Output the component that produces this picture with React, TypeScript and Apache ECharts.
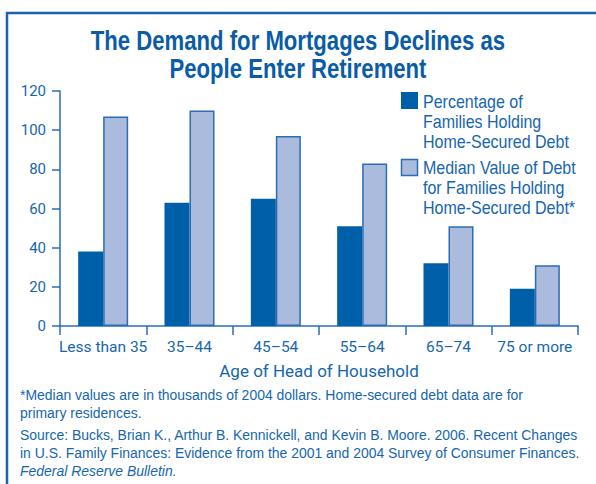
import React, { useEffect, useRef } from "react";
import * as echarts from "echarts";

const categories = ["Less than 35", "35\u201344", "45\u201354", "55\u201364", "65\u201374", "75 or more"];
const pctHolding = [38, 63, 65, 51, 32, 19];
const medianDebt = [107, 110, 97, 83, 51, 31];
const yTicks = { min: 0, max: 120, interval: 20 };

const AXFONT = "Roboto, 'Liberation Sans', sans-serif";
const FONT = "'Liberation Sans', Arial, sans-serif";
const TEXT = "#1666ae";
const TITLE = "#0a5ca6";
const DARK = "#005fa9";
const LIGHT = "#abbbdd";
const LINE = "#2a6db3";

export default function App() {
  const ref = useRef<HTMLDivElement>(null);
  useEffect(() => {
    if (!ref.current) return;
    const chart = echarts.init(ref.current, null, { renderer: "svg" });
    const narrowText = (x: number, y: number, text: string, font: string, lineHeight: number, fill: string, scaleX: number, align = "left") => ({
      type: "text",
      x,
      y,
      scaleX,
      style: { text, font, lineHeight, fill, textAlign: align, textVerticalAlign: "top" },
    });
    chart.setOption({
      animation: false,
      backgroundColor: "#ffffff",
      textStyle: { fontFamily: AXFONT },
      grid: { left: 60, right: 18, top: 91, bottom: 158, containLabel: false },
      xAxis: {
        type: "category",
        data: categories,
        boundaryGap: true,
        name: "Age of Head of Household",
        nameLocation: "middle",
        nameGap: 36,
        nameTextStyle: { fontFamily: AXFONT, fontSize: 17, color: TEXT },
        axisLine: { lineStyle: { color: LINE, width: 1.5 } },
        axisTick: { show: true, length: 9, interval: 0, lineStyle: { color: LINE, width: 1.5 } },
        axisLabel: { interval: 0, margin: 13, fontFamily: AXFONT, fontSize: 15.5, color: TEXT },
        splitLine: { show: false },
      },
      yAxis: {
        type: "value",
        min: yTicks.min,
        max: yTicks.max,
        interval: yTicks.interval,
        axisLine: { show: true, lineStyle: { color: LINE, width: 1.5 } },
        axisTick: { show: true, length: 8, lineStyle: { color: LINE, width: 1.5 } },
        axisLabel: { margin: 14, fontFamily: AXFONT, fontSize: 15, color: TEXT },
        splitLine: { show: false },
      },
      series: [
        {
          name: "Percentage of Families Holding Home-Secured Debt",
          type: "bar",
          data: pctHolding,
          barWidth: 25,
          barGap: "0%",
          itemStyle: { color: DARK },
        },
        {
          name: "Median Value of Debt for Families Holding Home-Secured Debt*",
          type: "bar",
          data: medianDebt,
          barWidth: 25,
          itemStyle: { color: LIGHT, borderColor: LINE, borderWidth: 1.5 },
        },
      ],
      graphic: [
        {
          type: "polyline",
          shape: { points: [[7, 484], [7, 13], [596, 13]] },
          style: { stroke: "#1c62ab", lineWidth: 2.5, fill: "none" },
        },
        narrowText(298, 27, "The Demand for Mortgages Declines as\nPeople Enter Retirement", `bold 27px ${FONT}`, 28, TITLE, 0.82, "center"),
        { type: "rect", shape: { x: 401, y: 92, width: 17, height: 17 }, style: { fill: DARK } },
        narrowText(423, 92, "Percentage of\nFamilies Holding\nHome-Secured Debt", `18px ${FONT}`, 20, TEXT, 0.89),
        {
          type: "rect",
          shape: { x: 401.5, y: 159.5, width: 16, height: 16 },
          style: { fill: LIGHT, stroke: LINE, lineWidth: 1.5 },
        },
        narrowText(423, 158, "Median Value of Debt\nfor Families Holding\nHome-Secured Debt*", `18px ${FONT}`, 20, TEXT, 0.89),
        narrowText(20, 386, "*Median values are in thousands of 2004 dollars. Home-secured debt data are for\nprimary residences.", `15.5px ${FONT}`, 18, TEXT, 0.9),
        narrowText(20, 426, "Source: Bucks, Brian K., Arthur B. Kennickell, and Kevin B. Moore. 2006. Recent Changes\nin U.S. Family Finances: Evidence from the 2001 and 2004 Survey of Consumer Finances.", `15.5px ${FONT}`, 18, TEXT, 0.9),
        narrowText(20, 462, "Federal Reserve Bulletin.", `italic 15.5px ${FONT}`, 18, TEXT, 0.9),
      ],
    });
    return () => chart.dispose();
  }, []);
  return (
    <div
      ref={ref}
      style={{ position: "fixed", left: 0, top: 0, width: 596, height: 484 }}
    />
  );
}
